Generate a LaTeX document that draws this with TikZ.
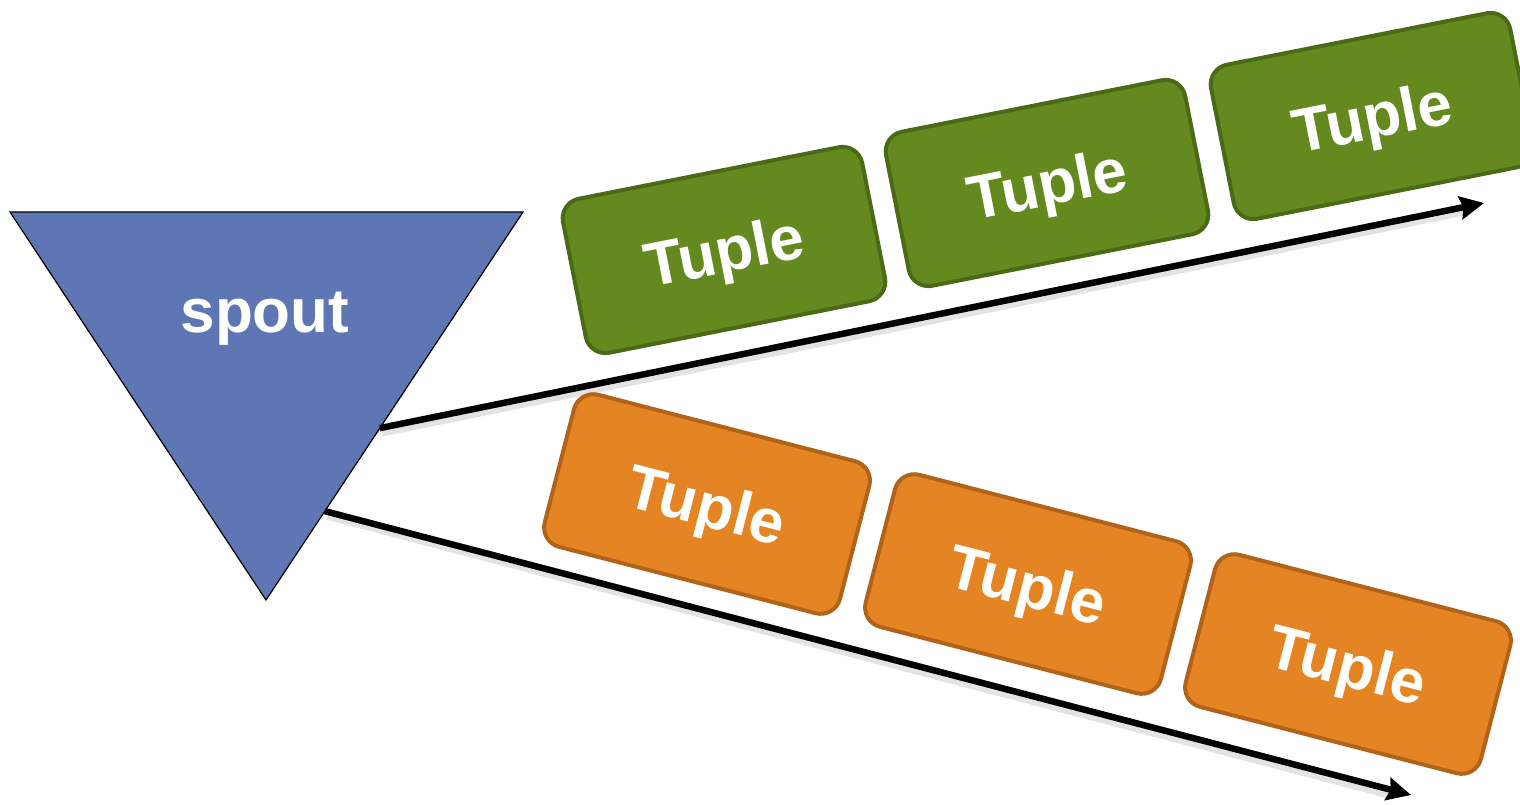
\documentclass[tikz,border=0pt]{standalone}
\usepackage{fontspec}
\setmainfont{Liberation Sans}
\usetikzlibrary{arrows.meta,calc}

\definecolor{spoutblue}{HTML}{5F76B4}
\definecolor{tgreen}{HTML}{64891F}
\definecolor{tgreenline}{HTML}{4B6A16}
\definecolor{torange}{HTML}{E58422}
\definecolor{torangeline}{HTML}{B1631A}

\tikzset{
  tuplebox/.style={draw, line width=4pt, rounded corners=20pt,
    minimum width=305pt, minimum height=157pt, inner sep=0pt,
    text depth=0pt,
    text=white, font=\fontsize{62}{70}\selectfont\bfseries},
  greentuple/.style={tuplebox, fill=tgreen, draw=tgreenline, rotate=11.2},
  orangetuple/.style={tuplebox, fill=torange, draw=torangeline, rotate=-14.5},
  stream/.style={line width=6.5pt, line cap=butt,
    -{Stealth[length=24pt,width=23pt,inset=3pt]}},
  streamshadow/.style={line width=7pt, draw=black!18, opacity=0.6}
}

\begin{document}
\begin{tikzpicture}[x=1pt,y=-1pt]
\useasboundingbox (0,0) rectangle (1520,804);

% spout: downward triangle
\coordinate (tl) at (10,212);
\coordinate (tr) at (523,212);
\coordinate (tb) at (266,600);
\fill[spoutblue] (tl) -- (tr) -- (tb) -- cycle;
\draw[line width=1.2pt, line join=miter] (tl) -- (tr) -- (tb) -- cycle;
\node[anchor=base, text=white, font=\fontsize{62}{70}\selectfont\bfseries]
  (spout) at (265,332) {spout};

% stream start and end points
\coordinate (gs) at ($(tr)!0.557!(tb)$);
\coordinate (ge) at (1484,203);
\coordinate (os) at ($(tr)!0.771!(tb)$);
\coordinate (oe) at (1411,795);

% streams
\draw[streamshadow] ($(gs)+(2,5)$) -- ($(ge)+(-20,9)$);
\draw[streamshadow] ($(os)+(2,5)$) -- ($(oe)+(-22,0)$);
\draw[stream] (gs) -- (ge);
\draw[stream] (os) -- (oe);

% tuples of the first stream
\node[greentuple] (g1) at (724,250) {Tuple};
\node[greentuple] (g2) at (1047,183) {Tuple};
\node[greentuple] (g3) at (1372,116) {Tuple};

% tuples of the second stream
\node[orangetuple] (o1) at (707,504) {Tuple};
\node[orangetuple] (o2) at (1028,584) {Tuple};
\node[orangetuple] (o3) at (1348,664) {Tuple};
\end{tikzpicture}
\end{document}
